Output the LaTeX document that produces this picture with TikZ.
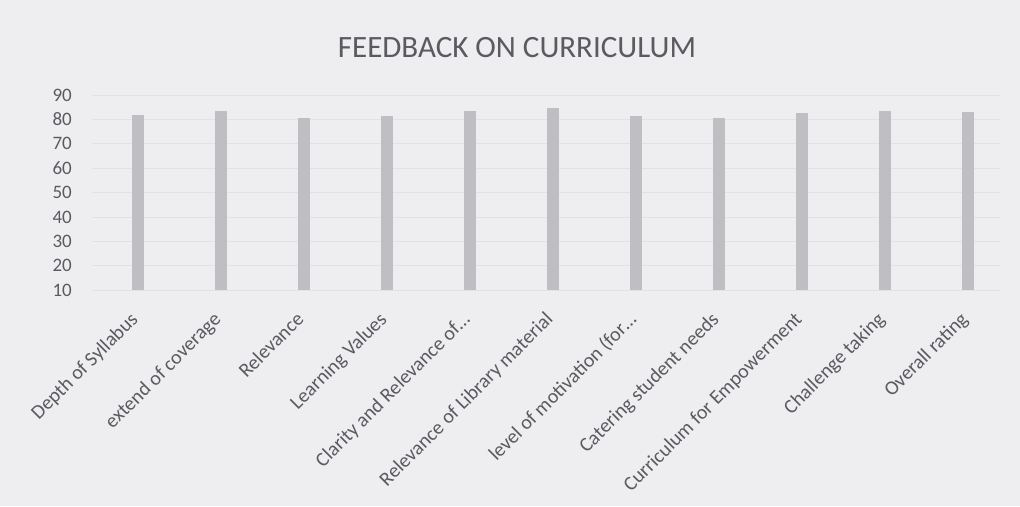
\documentclass[tikz,border=0pt]{standalone}
\usepackage{fontspec}
\setmainfont{Carlito}
\definecolor{paper}{HTML}{EEEEF0}
\definecolor{barfill}{HTML}{BFBFC3}
\definecolor{inkgray}{HTML}{5A5A60}
\definecolor{gridgray}{HTML}{E2E2E5}
\tikzset{
    bar/.style={fill=barfill,draw=none},
    gridline/.style={draw=gridgray,line width=0.8pt},
    ticklabel/.style={anchor=east,text=inkgray,font=\fontsize{19}{22}\selectfont,inner sep=0pt},
    catlabel/.style={anchor=north east,rotate=45,text=inkgray,font=\fontsize{20}{23}\selectfont,inner sep=0pt}
}
\begin{document}
\begin{tikzpicture}[x=1pt,y=-1pt]
    \fill[paper] (0,0) rectangle (1020,506);
    \useasboundingbox (0,0) rectangle (1020,506);
    \node[text=inkgray,font=\fontsize{31}{37}\selectfont] (title) at (517,48) {FEEDBACK ON CURRICULUM};
    \begin{scope}[shift={(0,314.4)},y=2.4375pt]
        % grid and axis labels
        \draw[gridline] (92,10) -- (1000,10);
        \draw[gridline] (92,20) -- (1000,20);
        \draw[gridline] (92,30) -- (1000,30);
        \draw[gridline] (92,40) -- (1000,40);
        \draw[gridline] (92,50) -- (1000,50);
        \draw[gridline] (92,60) -- (1000,60);
        \draw[gridline] (92,70) -- (1000,70);
        \draw[gridline] (92,80) -- (1000,80);
        \draw[gridline] (92,90) -- (1000,90);
        \node[ticklabel] (t10) at (72,10) {10};
        \node[ticklabel] (t20) at (72,20) {20};
        \node[ticklabel] (t30) at (72,30) {30};
        \node[ticklabel] (t40) at (72,40) {40};
        \node[ticklabel] (t50) at (72,50) {50};
        \node[ticklabel] (t60) at (72,60) {60};
        \node[ticklabel] (t70) at (72,70) {70};
        \node[ticklabel] (t80) at (72,80) {80};
        \node[ticklabel] (t90) at (72,90) {90};
        % bars
        \fill[bar] (132,10) rectangle (144,81.7);
        \fill[bar] (215,10) rectangle (227,83.4);
        \fill[bar] (298,10) rectangle (310,80.5);
        \fill[bar] (381,10) rectangle (393,81.3);
        \fill[bar] (464,10) rectangle (476,83.4);
        \fill[bar] (547,10) rectangle (559,84.6);
        \fill[bar] (630,10) rectangle (642,81.3);
        \fill[bar] (713,10) rectangle (725,80.5);
        \fill[bar] (796,10) rectangle (808,82.5);
        \fill[bar] (879,10) rectangle (891,83.4);
        \fill[bar] (962,10) rectangle (974,83.0);
        % category labels
        \node[catlabel] (depth) at (129,1.6) {Depth of Syllabus};
        \node[catlabel] (extend) at (212,1.6) {extend of coverage};
        \node[catlabel] (relev) at (295,1.6) {Relevance};
        \node[catlabel] (learn) at (378,1.6) {Learning Values};
        \node[catlabel] (clarity) at (461,1.6) {Clarity and Relevance of…};
        \node[catlabel] (library) at (544,1.6) {Relevance of Library material};
        \node[catlabel] (motiv) at (627,1.6) {level of motivation (for…};
        \node[catlabel] (cater) at (710,1.6) {Catering student needs};
        \node[catlabel] (empower) at (793,1.6) {Curriculum for Empowerment};
        \node[catlabel] (challenge) at (876,1.6) {Challenge taking};
        \node[catlabel] (overall) at (959,1.6) {Overall rating};
    \end{scope}
\end{tikzpicture}
\end{document}
